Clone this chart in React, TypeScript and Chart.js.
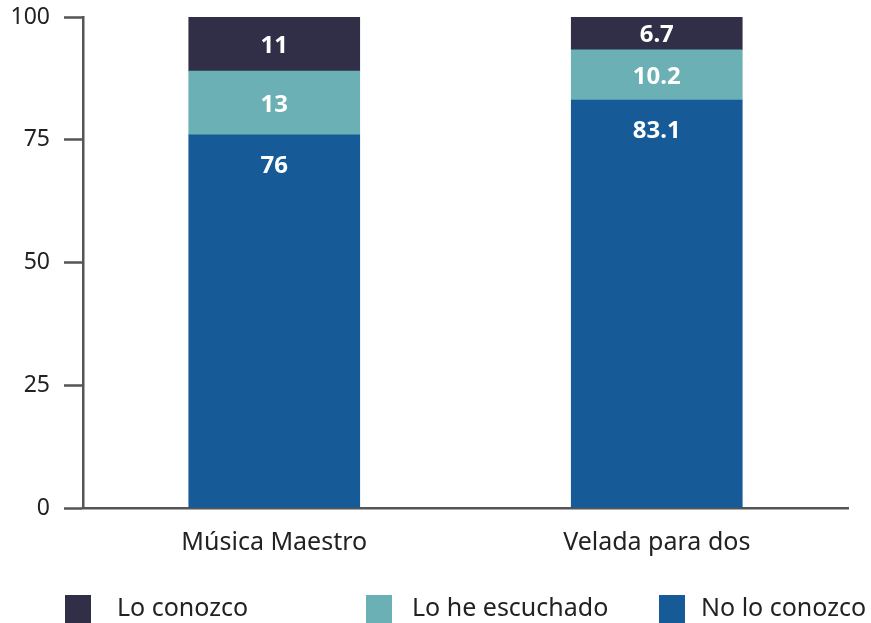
import React, { useEffect, useRef } from "react";
import { Chart, registerables } from "chart.js";

Chart.register(...registerables);

const categories = ["Música Maestro", "Velada para dos"];
const noLoConozco = [76, 83.1];
const loHeEscuchado = [13, 10.2];
const loConozco = [11, 6.7];
const yTicks = [0, 25, 50, 75, 100];

const seriesNames = ["No lo conozco", "Lo he escuchado", "Lo conozco"];
const seriesColors = ["#165B97", "#6BB0B4", "#312F48"];
const legendOrder = [2, 1, 0];

const FONT = "'Noto Sans', sans-serif";
const AXIS = "#555555";

const valueLabels = {
  id: "valueLabels",
  afterDatasetsDraw(chart: any) {
    const ctx = chart.ctx;
    ctx.save();
    ctx.fillStyle = "#ffffff";
    ctx.font = `bold 24px ${FONT}`;
    ctx.textAlign = "center";
    ctx.textBaseline = "middle";
    chart.data.datasets.forEach((ds: any, di: number) => {
      const meta = chart.getDatasetMeta(di);
      meta.data.forEach((bar: any, i: number) => {
        const v = ds.data[i];
        const y = di === 0 ? bar.y + 31 : (bar.y + bar.base) / 2 + 2;
        ctx.fillText(String(v), bar.x, y);
      });
    });
    ctx.restore();
  },
};

const customLegend = {
  id: "customLegend",
  afterDraw(chart: any) {
    const ctx = chart.ctx;
    ctx.save();
    ctx.font = `25px ${FONT}`;
    ctx.textBaseline = "middle";
    ctx.textAlign = "left";
    const boxX = [65, 366, 659];
    const textX = [117, 412, 701];
    legendOrder.forEach((si, k) => {
      ctx.fillStyle = seriesColors[si];
      ctx.fillRect(boxX[k], 595, 26, 28);
      ctx.fillStyle = "#222222";
      ctx.fillText(seriesNames[si], textX[k], 609);
    });
    ctx.restore();
  },
};

export default function App() {
  const ref = useRef<HTMLCanvasElement>(null);
  useEffect(() => {
    document.body.style.margin = "0";
    const datasets = [noLoConozco, loHeEscuchado, loConozco].map((d, i) => ({
      label: seriesNames[i],
      data: d,
      backgroundColor: seriesColors[i],
      borderWidth: 0,
      barThickness: 171,
    }));
    const chart = new Chart(ref.current!, {
      type: "bar",
      data: { labels: categories, datasets },
      plugins: [valueLabels, customLegend],
      options: {
        responsive: false,
        animation: false,
        layout: { padding: { top: 17, right: 23, left: 0, bottom: 0 } },
        plugins: { legend: { display: false }, tooltip: { enabled: false } },
        scales: {
          x: {
            stacked: true,
            grid: { display: false, drawTicks: false },
            border: { display: true, color: AXIS, width: 2.5 },
            ticks: {
              color: "#222222",
              font: { family: FONT, size: 25 },
              padding: 20,
            },
            afterFit: (s: any) => {
              s.height = 115;
              s.paddingLeft = 0;
              s.paddingRight = 0;
            },
          },
          y: {
            stacked: true,
            min: 0,
            max: 100,
            afterBuildTicks: (s: any) => {
              s.ticks = yTicks.map((v) => ({ value: v }));
            },
            grid: {
              drawOnChartArea: false,
              drawTicks: true,
              tickLength: 19,
              tickColor: AXIS,
              tickWidth: 2.5,
            },
            border: { display: true, color: AXIS, width: 2.5 },
            ticks: {
              color: "#222222",
              font: { family: FONT, size: 23 },
              padding: 14,
            },
            afterFit: (s: any) => {
              s.width = 83;
              s.paddingTop = 0;
              s.paddingBottom = 0;
            },
          },
        },
      },
    });
    return () => chart.destroy();
  }, []);
  return <canvas ref={ref} width={871} height={623} style={{ display: "block" }} />;
}
